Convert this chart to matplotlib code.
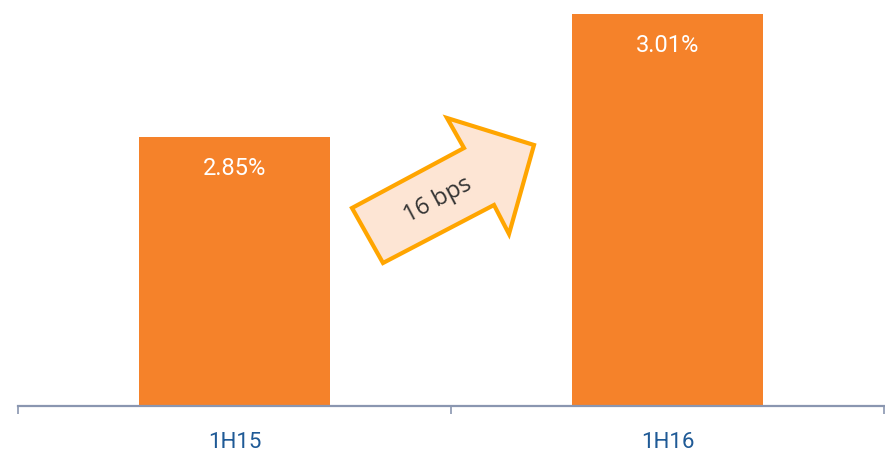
import numpy as np
import matplotlib.pyplot as plt
from matplotlib.patches import Polygon

# dati
periodi = ['1H15', '1H16']
valori = [2.85, 3.01]
etichette = ['2.85%', '3.01%']
freccia_testo = '16 bps'

arancio = '#F5822A'
asse_col = '#8A96B0'
blu = '#1F5A96'

fig = plt.figure(figsize=(8.85, 4.61), dpi=100)
ax = fig.add_axes([18 / 885, 1 - 406 / 461, 866 / 885, 406 / 461])

x = np.arange(len(periodi))
ax.bar(x, valori, width=0.44, color=arancio, zorder=2)
ax.set_xlim(-0.5, 1.5)
ax.set_ylim(2.5, 3.028)

for xi, v, lab in zip(x, valori, etichette):
    ax.annotate(lab, (xi, v), xytext=(0, -23), textcoords='offset points',
                ha='center', va='center', color='white', fontsize=17,
                family='Roboto')

for s in ['top', 'right', 'left']:
    ax.spines[s].set_visible(False)
ax.spines['bottom'].set_color(asse_col)
ax.spines['bottom'].set_linewidth(1.6)
ax.set_yticks([])
ax.set_xticks(x)
ax.set_xticklabels(periodi, color=blu, fontsize=16, family='Roboto')
ax.tick_params(axis='x', which='major', length=0, pad=19)
ax.set_xticks([-0.5, 0.5, 1.5], minor=True)
ax.tick_params(axis='x', which='minor', length=6, width=1.2, color=asse_col)

# freccia (coordinate in pixel della figura)
pts = [(352, 208), (464, 148), (447, 118), (534, 145), (509, 234), (494, 205), (383, 263)]
pts = [(px / 885, 1 - py / 461) for px, py in pts]
freccia = Polygon(pts, closed=True, transform=fig.transFigure, facecolor='#FDE5D4',
                  edgecolor='#FFA500', linewidth=3, joinstyle='miter', zorder=5)
fig.patches.append(freccia)
fig.text(438 / 885, 1 - 200 / 461, freccia_testo, rotation=28, ha='center', va='center',
         fontsize=17, color='#333333', family='Open Sans', zorder=6)

plt.savefig('out.png', dpi=100)
